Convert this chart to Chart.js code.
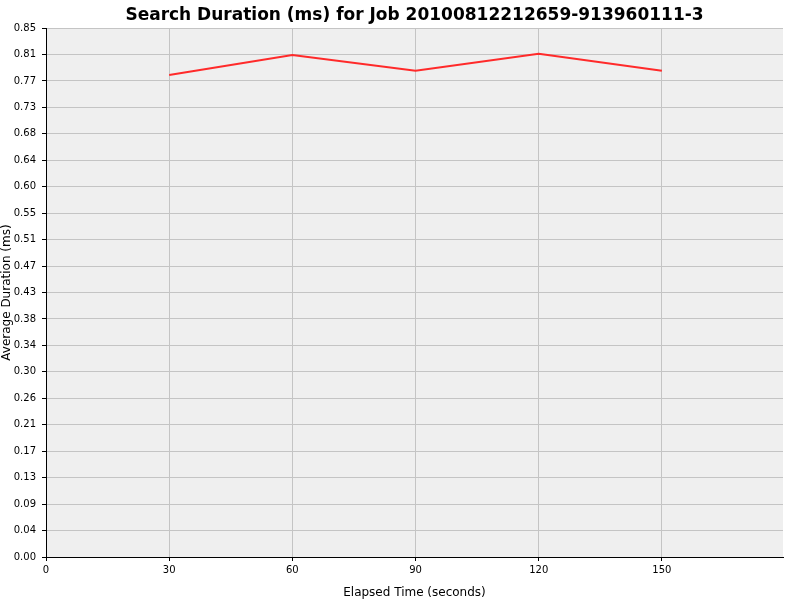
<!DOCTYPE html>
<html>
<head>
<meta charset="utf-8">
<script src="https://cdn.jsdelivr.net/npm/chart.js@4/dist/chart.umd.min.js"></script>
<style>
  html, body { margin: 0; padding: 0; background: #fff; }
  #wrap { width: 800px; height: 600px; }
</style>
</head>
<body>
<div id="wrap"><canvas id="chart" width="800" height="600"></canvas></div>
<script>
// data
const elapsed = [30, 60, 90, 120, 150];
const avgDuration = [0.7745, 0.8066, 0.7814, 0.8087, 0.7814];
const xTicks = [0, 30, 60, 90, 120, 150];
const yTickLabels = ["0.00", "0.04", "0.09", "0.13", "0.17", "0.21", "0.26", "0.30", "0.34", "0.38",
  "0.43", "0.47", "0.51", "0.55", "0.60", "0.64", "0.68", "0.73", "0.77", "0.81", "0.85"];
const yStep = 0.0425;

// grey plot background
const plotBg = {
  id: "plotBg",
  beforeDraw(chart) {
    const a = chart.chartArea;
    const ctx = chart.ctx;
    ctx.save();
    ctx.fillStyle = "#efefef";
    ctx.fillRect(a.left, a.top, a.right - a.left, a.bottom - a.top);
    ctx.restore();
  },
};

const tickFont = { family: "'DejaVu Sans', sans-serif", size: 10 };

new Chart(document.getElementById("chart"), {
  type: "line",
  data: {
    datasets: [
      {
        label: "Average Duration",
        data: elapsed.map((x, i) => ({ x: x, y: avgDuration[i] })),
        borderColor: "#ff2a2a",
        borderWidth: 2,
        pointRadius: 0,
        tension: 0,
      },
    ],
  },
  options: {
    responsive: false,
    animation: false,
    layout: { padding: { left: 0, right: 17, top: 0, bottom: 0 } },
    plugins: {
      legend: { display: false },
      tooltip: { enabled: false },
      title: {
        display: true,
        fullSize: false,
        text: "Search Duration (ms) for Job 20100812212659-913960111-3",
        color: "#000",
        font: { family: "'DejaVu Sans', sans-serif", size: 17, weight: "bold", lineHeight: 1.3 },
        padding: { top: 5, bottom: 1 },
      },
    },
    scales: {
      x: {
        type: "linear",
        min: 0,
        max: 179.5,
        afterBuildTicks(scale) {
          scale.ticks = xTicks.map((v) => ({ value: v }));
        },
        ticks: { color: "#000", font: tickFont, padding: 3, maxRotation: 0, callback: (v) => String(v) },
        grid: { color: "#c4c4c4", tickColor: "#000", tickLength: 4 },
        border: { color: "#000", width: 1 },
        title: {
          display: true,
          text: "Elapsed Time (seconds)",
          color: "#000",
          font: { family: "'DejaVu Sans', sans-serif", size: 12 },
          padding: { top: 5, bottom: 0 },
        },
        afterFit(scale) { scale.height = 43; },
      },
      y: {
        type: "linear",
        min: 0,
        max: 0.85,
        afterBuildTicks(scale) {
          scale.ticks = yTickLabels.map((_, i) => ({ value: i * yStep }));
        },
        ticks: {
          color: "#000",
          font: tickFont,
          padding: 6,
          callback: (v, i) => yTickLabels[i],
        },
        grid: { color: "#c4c4c4", tickColor: "#000", tickLength: 4 },
        border: { color: "#000", width: 1 },
        title: {
          display: true,
          text: "Average Duration (ms)",
          color: "#000",
          font: { family: "'DejaVu Sans', sans-serif", size: 12 },
          padding: { top: 0, bottom: 0 },
        },
        afterFit(scale) { scale.width = 46; },
      },
    },
  },
  plugins: [plotBg],
});
</script>
</body>
</html>
